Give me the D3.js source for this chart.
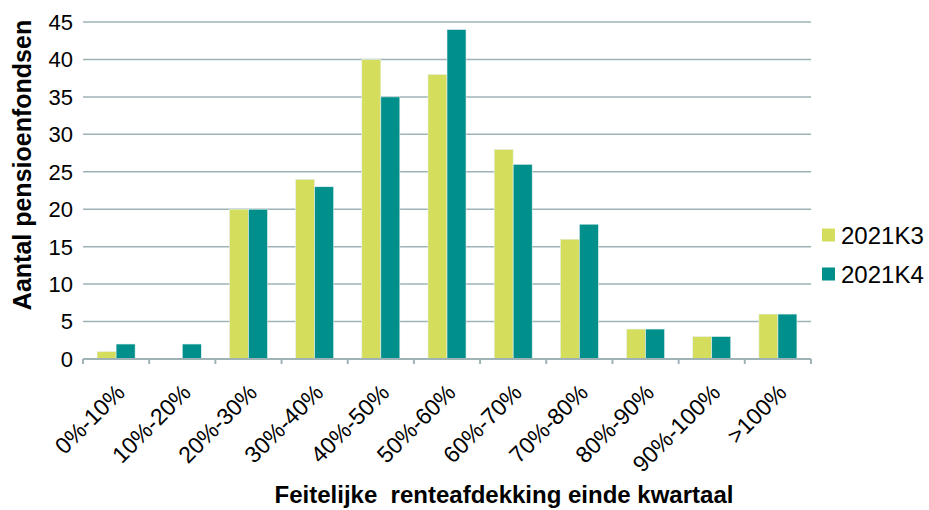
<!DOCTYPE html>
<html>
<head>
<meta charset="utf-8">
<script src="https://cdn.jsdelivr.net/npm/d3@7"></script>
<style>
  body { margin: 0; background: #fff; }
  text { font-family: Arial, "Liberation Sans", sans-serif; }
</style>
</head>
<body>
<svg id="chart" width="929" height="510"></svg>
<script>
// categories and series values
var categories = ["0%-10%", "10%-20%", "20%-30%", "30%-40%", "40%-50%", "50%-60%",
                  "60%-70%", "70%-80%", "80%-90%", "90%-100%", ">100%"];
var seriesNames = ["2021K3", "2021K4"];
var valuesK3 = [1, 0, 20, 24, 40, 38, 28, 16, 4, 3, 6];
var valuesK4 = [2, 2, 20, 23, 35, 44, 26, 18, 4, 3, 6];
var yTicks = [0, 5, 10, 15, 20, 25, 30, 35, 40, 45];

var colors = ["#d4dd5c", "#008f8a"];
var gridColor = "#9fb3b7";

var svg = d3.select("#chart");
var plotLeft = 83, plotRight = 811, plotTop = 22, plotBottom = 359;

var x = d3.scaleBand().domain(categories).range([plotLeft, plotRight]).paddingInner(0).paddingOuter(0);
var inner = d3.scaleBand().domain(seriesNames).range([0, x.bandwidth()]).paddingInner(0).paddingOuter(0.74);
var y = d3.scaleLinear().domain([0, 45]).range([plotBottom, plotTop]);

// gridlines
svg.append("g").selectAll("line")
    .data(yTicks.filter(d => d > 0))
    .enter().append("line")
    .attr("x1", plotLeft).attr("x2", plotRight)
    .attr("y1", d => y(d)).attr("y2", d => y(d))
    .attr("stroke", gridColor).attr("stroke-width", 1.5);

// y labels
svg.append("g").selectAll("text")
    .data(yTicks)
    .enter().append("text")
    .attr("x", 73).attr("y", d => y(d))
    .attr("dy", "0.36em")
    .attr("text-anchor", "end")
    .style("font-size", "22px")
    .text(d => d);

// bars
var rows = categories.map(function (c, i) {
    return { cat: c, vals: [valuesK3[i], valuesK4[i]] };
});
var groups = svg.append("g").selectAll("g")
    .data(rows)
    .enter().append("g")
    .attr("transform", d => "translate(" + x(d.cat) + ",0)");
groups.selectAll("rect")
    .data(d => d.vals.map((v, j) => ({ name: seriesNames[j], value: v, j: j })))
    .enter().append("rect")
    .attr("x", d => inner(d.name))
    .attr("width", inner.bandwidth())
    .attr("y", d => y(d.value))
    .attr("height", d => y(0) - y(d.value))
    .attr("fill", d => colors[d.j])
    .attr("stroke", "#e6f1f0")
    .attr("stroke-width", 0.6);

// x axis line and ticks
var xAxis = svg.append("g");
xAxis.append("line")
    .attr("x1", plotLeft).attr("x2", plotRight)
    .attr("y1", plotBottom).attr("y2", plotBottom)
    .attr("stroke", gridColor).attr("stroke-width", 2.2);
xAxis.selectAll(".tick")
    .data(d3.range(categories.length + 1))
    .enter().append("line")
    .attr("class", "tick")
    .attr("x1", i => plotLeft + i * x.step()).attr("x2", i => plotLeft + i * x.step())
    .attr("y1", plotBottom).attr("y2", plotBottom + 5)
    .attr("stroke", gridColor).attr("stroke-width", 2);

// x labels, rotated
svg.append("g").selectAll("text")
    .data(categories)
    .enter().append("text")
    .attr("text-anchor", "end")
    .attr("transform", d => "translate(" + (x(d) + x.bandwidth() / 2 + 10) + "," + (plotBottom + 35) + ") rotate(-45)")
    .style("font-size", "23px")
    .text(d => d);

// axis titles
svg.append("text")
    .attr("transform", "translate(31,165) rotate(-90)")
    .attr("text-anchor", "middle")
    .style("font-size", "25px")
    .style("font-weight", "bold")
    .text("Aantal pensioenfondsen");

svg.append("text")
    .attr("x", 504).attr("y", 503)
    .attr("text-anchor", "middle")
    .style("font-size", "24px")
    .style("font-weight", "bold")
    .style("white-space", "pre")
    .text("Feitelijke  renteafdekking einde kwartaal");

// legend
var legend = svg.append("g").selectAll("g")
    .data(seriesNames)
    .enter().append("g")
    .attr("transform", (d, i) => "translate(822," + (235 + i * 39) + ")");
legend.append("rect")
    .attr("x", 0).attr("y", -6.5)
    .attr("width", 13).attr("height", 13)
    .attr("fill", (d, i) => colors[i]);
legend.append("text")
    .attr("x", 19).attr("y", 0)
    .attr("dy", "0.36em")
    .style("font-size", "24px")
    .text(d => d);
</script>
</body>
</html>
